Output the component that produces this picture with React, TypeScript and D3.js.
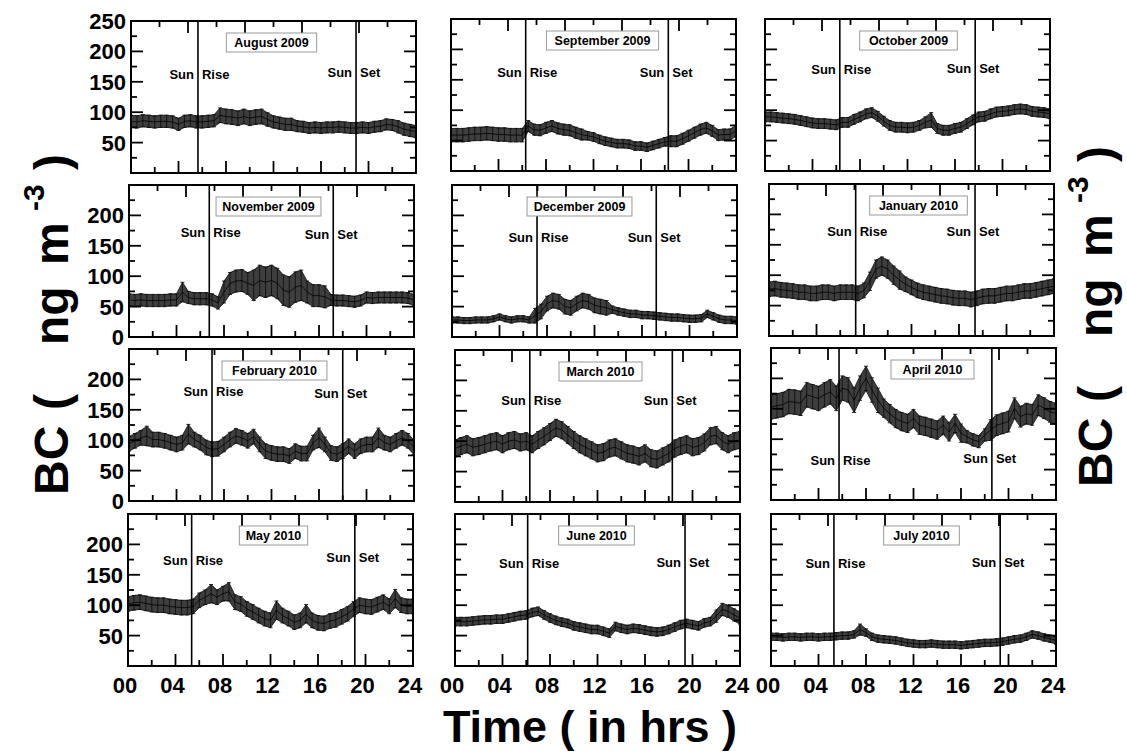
import React from 'react';
import * as d3 from 'd3';

// one panel per month, diurnal BC (ng m-3) sampled every half hour, 00 -> 24
const months = [
  'August 2009', 'September 2009', 'October 2009',
  'November 2009', 'December 2009', 'January 2010',
  'February 2010', 'March 2010', 'April 2010',
  'May 2010', 'June 2010', 'July 2010',
];
const sunRise = [5.64, 6.29, 6.3, 6.76, 7.16, 7.3, 6.99, 6.3, 5.73, 5.36, 6.12, 5.3];
const sunSet = [18.95, 18.3, 17.7, 17.2, 17.2, 17.35, 18.0, 18.3, 18.6, 19.1, 19.37, 19.3];
const hours = d3.range(49).map((k) => k * 0.5);

const meanAug = [85,84,86,85,84,85,85,84,80,85,86,84,84,85,86,95,93,92,90,93,90,92,93,88,84,82,80,80,77,76,74,75,74,75,75,76,75,74,74,75,74,76,77,80,79,76,72,70,68];
const sdAug = [10,10,10,10,10,10,10,10,10,10,10,10,10,10,10,12,12,12,12,12,12,12,12,11,10,10,10,10,9,9,9,9,9,9,9,9,9,9,9,9,9,9,9,9,9,10,10,10,10];
const meanSep = [59,59,59,60,61,61,62,61,60,60,59,59,59,74,68,67,71,74,70,68,67,63,60,58,56,52,49,47,45,45,44,41,41,39,42,45,48,49,49,53,58,63,68,71,66,59,60,60,66];
const sdSep = [11,11,11,11,11,11,11,11,11,11,11,11,11,9,9,9,9,9,9,9,9,9,9,7,7,7,7,7,7,7,7,7,7,7,7,7,7,9,9,9,9,9,9,9,9,9,9,9,9];
const meanOct = [89,89,88,87,86,85,83,81,79,78,78,77,76,80,80,85,89,94,96,90,82,75,72,72,71,72,75,80,84,70,67,67,70,72,78,84,89,90,94,97,98,99,101,102,101,98,97,96,94];
const sdOct = [8,8,8,8,8,8,8,8,8,8,8,8,8,8,8,8,8,8,8,8,8,8,8,8,8,8,8,9,12,8,8,8,8,8,8,8,8,8,8,8,8,8,8,8,8,8,8,8,8];
const meanNov = [61,60,61,60,60,60,60,61,61,74,65,63,63,63,61,56,74,88,92,93,88,85,93,90,93,88,77,74,82,85,74,68,68,66,61,60,60,59,58,60,65,64,65,65,65,65,65,64,61];
const sdNov = [10,10,10,10,10,10,10,10,10,16,10,10,10,10,10,10,18,18,18,18,18,25,25,25,25,25,25,25,25,25,18,18,18,18,9,9,9,9,9,9,9,9,9,9,9,9,9,9,9];
const meanDec = [28,28,27,27,28,28,28,30,33,30,28,30,30,28,35,42,55,60,58,50,48,55,60,58,52,50,48,45,42,40,38,38,36,36,35,34,33,32,32,31,30,30,31,38,34,30,28,28,27];
const sdDec = [5,5,5,5,5,5,5,5,5,5,5,5,5,5,12,12,12,12,12,12,12,12,12,12,12,12,12,6,6,6,6,6,6,6,6,6,6,6,6,6,6,6,6,6,6,6,6,6,6];
const meanJan = [77,78,76,75,74,72,72,70,70,72,72,70,72,72,72,70,75,90,110,115,110,100,92,85,80,75,72,70,68,66,65,63,62,62,60,62,65,66,66,68,70,70,72,74,74,76,78,80,82];
const sdJan = [12,12,12,12,12,12,12,12,12,12,12,12,12,12,12,12,12,15,15,15,15,15,15,12,12,12,12,12,12,12,12,12,12,12,12,12,12,12,12,12,12,12,12,12,12,12,12,12,12];
const meanFeb = [94,99,104,107,101,101,99,96,93,96,110,101,96,88,85,86,93,101,107,104,99,106,93,82,79,77,77,74,82,78,78,96,104,93,79,77,82,90,82,90,93,93,104,96,93,99,104,99,88];
const sdFeb = [12,12,12,16,12,12,12,12,12,12,16,12,12,12,12,12,12,12,12,12,12,12,12,12,12,12,12,12,12,12,12,12,16,12,12,12,12,12,12,12,12,12,16,12,12,12,12,12,12];
const meanMar = [88,92,95,90,92,95,98,100,95,100,102,98,100,95,102,108,115,122,118,110,102,95,90,85,80,82,88,90,85,80,78,75,80,72,70,75,80,88,92,95,90,92,98,108,110,100,95,100,102];
const sdMar = [14,14,14,14,14,14,14,14,14,14,14,14,14,14,14,14,14,14,14,14,14,14,14,14,14,14,14,14,14,14,14,14,14,14,14,14,14,14,14,14,14,14,14,14,14,14,14,14,14];
const meanApr = [153,155,157,162,161,159,173,170,167,173,178,167,184,181,164,184,200,181,164,151,142,134,129,126,134,123,121,118,115,123,112,126,110,104,99,96,107,115,123,126,129,151,137,142,140,156,151,145,142];
const sdApr = [20,20,20,20,20,20,20,20,20,20,20,20,20,20,20,20,20,20,20,15,15,15,15,15,15,15,15,15,15,15,15,15,15,10,10,10,10,17,17,17,17,17,17,17,17,17,17,17,17];
const meanMay = [102,104,105,103,101,100,100,98,97,96,96,98,108,113,119,113,119,122,105,102,94,89,83,78,75,92,83,78,72,75,86,75,71,70,74,76,81,86,94,100,98,97,101,105,98,111,100,98,98];
const sdMay = [12,12,12,12,12,12,12,12,12,12,12,12,12,12,15,12,12,15,12,12,12,12,12,12,12,15,12,12,12,12,15,12,12,12,12,12,12,12,12,12,12,12,12,12,12,15,12,12,12];
const meanJun = [73,73,73,74,75,76,76,77,77,79,81,83,84,88,90,84,79,75,72,70,66,64,62,60,60,57,54,65,62,60,62,61,59,57,56,57,60,64,68,70,68,66,71,73,82,93,90,84,79];
const sdJun = [7,7,7,7,7,7,7,7,7,7,7,7,7,7,7,7,7,7,7,7,7,7,7,7,7,7,7,7,7,7,7,7,7,7,7,7,7,7,7,7,7,7,7,7,10,10,10,10,10];
const meanJul = [48,48,47,48,48,47,48,48,47,48,48,49,50,50,52,60,55,48,45,44,43,42,40,38,37,36,36,37,36,35,35,35,34,35,36,37,38,38,39,40,42,44,45,48,52,50,47,45,42];
const sdJul = [6,6,6,6,6,6,6,6,6,6,6,6,6,6,6,9,6,6,6,6,6,6,6,6,6,6,6,6,6,6,6,6,6,6,6,6,6,6,6,6,6,6,6,6,6,6,6,6,6];

const means = [meanAug, meanSep, meanOct, meanNov, meanDec, meanJan, meanFeb, meanMar, meanApr, meanMay, meanJun, meanJul];
const sds = [sdAug, sdSep, sdOct, sdNov, sdDec, sdJan, sdFeb, sdMar, sdApr, sdMay, sdJun, sdJul];

const rowYTicks = [[50, 100, 150, 200, 250], [0, 50, 100, 150, 200], [0, 50, 100, 150, 200], [50, 100, 150, 200]];
const xTickLabels = ['00', '04', '08', '12', '16', '20', '24'];

// layout
const FONT = '"Liberation Sans", Arial, Helvetica, sans-serif';
const PW = 285;
const PH = 152;
const panelPos = [
  [131, 21], [451, 19], [765, 19],
  [129, 185], [452, 185], [769, 184],
  [129, 349], [455, 350], [771, 348],
  [128, 514], [455, 514], [771, 514],
];
const labelDrop = [[58, 56], [58, 58], [55, 54], [52, 54], [57, 57], [52, 52], [47, 49], [55, 55], [117, 115], [51, 48], [54, 53], [54, 53]];
const titleShift = [-2, 9, 1, -3, -15, 7, 3, 3, 19, 3, -1, 8];

const Panel: React.FC<{ i: number }> = ({ i }) => {
  const [px, py] = panelPos[i];
  const row = Math.floor(i / 3);
  const col = i % 3;
  const x = d3.scaleLinear().domain([0, 24]).range([0, PW]);
  const y = d3.scaleLinear().domain([0, 250]).range([PH, 0]);
  const xTop = d3.scaleLinear().domain([0, 10]).range([0, PW]);
  const pts = hours.map((h, k) => ({ h, m: means[i][k], e: sds[i][k] }));
  const band = d3.area<any>().x((d) => x(d.h)).y0((d) => y(d.m - d.e)).y1((d) => y(d.m + d.e));
  const mid = d3.line<any>().x((d) => x(d.h)).y((d) => y(d.m));
  const clipId = `clip-${i}`;
  const titleW = months[i].length * 7.3 + 10;
  const tcx = PW / 2 + titleShift[i];

  return (
    <g transform={`translate(${px},${py})`}>
      <clipPath id={clipId}><rect width={PW} height={PH} /></clipPath>
      <g clipPath={`url(#${clipId})`}>
        <path d={band(pts) || ''} fill="#3e3e3e" stroke="#111" strokeWidth={0.8} />
        {pts.map((d, k) => (
          <g key={k} stroke="#111" strokeWidth={0.9}>
            <line x1={x(d.h)} x2={x(d.h)} y1={y(d.m - d.e)} y2={y(d.m + d.e)} />
            <line x1={x(d.h) - 2} x2={x(d.h) + 2} y1={y(d.m + d.e)} y2={y(d.m + d.e)} />
            <line x1={x(d.h) - 2} x2={x(d.h) + 2} y1={y(d.m - d.e)} y2={y(d.m - d.e)} />
          </g>
        ))}
        <path d={mid(pts) || ''} fill="none" stroke="#000" strokeWidth={0.8} />
      </g>

      {/* ticks, all pointing inward */}
      <g stroke="#000" strokeWidth={1.8}>
        {d3.range(25, 250, 25).map((v) => {
          const len = v % 50 === 0 ? 12 : 6;
          return (
            <g key={`y${v}`}>
              <line x1={0} x2={len} y1={y(v)} y2={y(v)} />
              <line x1={PW} x2={PW - len} y1={y(v)} y2={y(v)} />
            </g>
          );
        })}
        {d3.range(2, 24, 2).map((h) => (
          <line key={`b${h}`} x1={x(h)} x2={x(h)} y1={PH} y2={PH - (h % 4 === 0 ? 12 : 6)} />
        ))}
        {d3.range(1, 10).map((t) => (
          <line key={`t${t}`} x1={xTop(t)} x2={xTop(t)} y1={0} y2={t % 2 === 0 ? 12 : 6} />
        ))}
      </g>

      {/* sunrise / sunset */}
      <line x1={x(sunRise[i])} x2={x(sunRise[i])} y1={0} y2={PH} stroke="#000" strokeWidth={1.6} />
      <line x1={x(sunSet[i])} x2={x(sunSet[i])} y1={0} y2={PH} stroke="#000" strokeWidth={1.6} />
      <g fontFamily={FONT} fontWeight="bold" fontSize={13} fill="#000">
        <text x={x(sunRise[i]) - 4} y={labelDrop[i][0]} textAnchor="end">Sun</text>
        <text x={x(sunRise[i]) + 4} y={labelDrop[i][0]}>Rise</text>
        <text x={x(sunSet[i]) - 4} y={labelDrop[i][1]} textAnchor="end">Sun</text>
        <text x={x(sunSet[i]) + 4} y={labelDrop[i][1]}>Set</text>
      </g>

      {/* month box */}
      <rect x={tcx - titleW / 2} y={12} width={titleW} height={19} fill="#fff" stroke="#9a9a9a" strokeWidth={1} />
      <text x={tcx} y={26} textAnchor="middle" fontFamily={FONT} fontWeight="bold" fontSize={12.5}>{months[i]}</text>

      <rect width={PW} height={PH} fill="none" stroke="#000" strokeWidth={2} />

      {col === 0 && rowYTicks[row].map((v) => (
        <text key={`yl${v}`} x={-5} y={y(v)} dy="0.36em" textAnchor="end" fontFamily={FONT} fontWeight="bold" fontSize={22}>{v}</text>
      ))}
      {row === 3 && xTickLabels.map((s) => (
        <text key={`xl${s}`} x={x(+s) - 3} y={PH + 27} textAnchor="middle" fontFamily={FONT} fontWeight="bold" fontSize={22}>{s}</text>
      ))}
    </g>
  );
};

// rotated title; tspan offsets follow the wide spacing of the original label
const YTitle: React.FC<{ tx: number; ty: number }> = ({ tx, ty }) => (
  <g transform={`translate(${tx},${ty}) rotate(-90)`}>
    <text fontFamily={FONT} fontWeight="bold" fontSize={48}>
      <tspan x={0}>BC</tspan>
      <tspan x={85}>(</tspan>
      <tspan x={150}>ng</tspan>
      <tspan x={230}>m</tspan>
      <tspan x={284} dy={-24} fontSize={30}>-3</tspan>
      <tspan x={325} dy={24}>)</tspan>
    </text>
  </g>
);

export default function App() {
  return (
    <svg width={1127} height={756} style={{ position: 'absolute', left: 0, top: 0, background: '#fff' }}>
      {months.map((_, i) => <Panel key={i} i={i} />)}
      <YTitle tx={68} ty={495} />
      <YTitle tx={1112} ty={487} />
      <text x={590} y={742} textAnchor="middle" fontFamily={FONT} fontWeight="bold" fontSize={45}>Time ( in hrs )</text>
    </svg>
  );
}
